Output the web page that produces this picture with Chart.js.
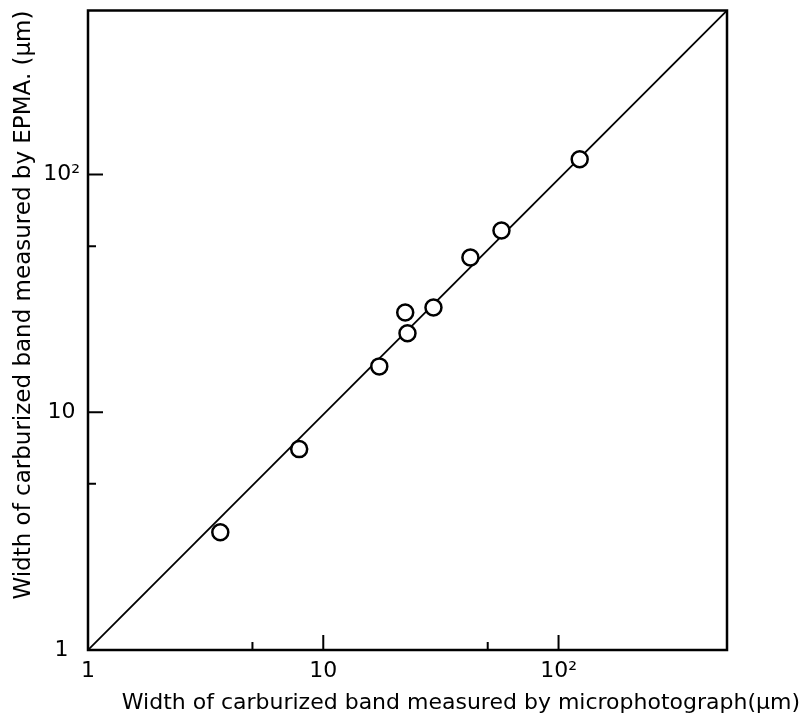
<!DOCTYPE html>
<html>
<head>
<meta charset="utf-8">
<script src="https://cdn.jsdelivr.net/npm/chart.js@4/dist/chart.umd.min.js"></script>
<style>
	body { margin: 0; background: #fff; }
	canvas { display: block; }
</style>
</head>
<body>
<canvas id="cc" width="809" height="723"></canvas>
<script>
// measured points (um)
let microWidth = [3.65, 7.9, 17.3, 22.3, 22.8, 29.4, 42.2, 57.2, 123];
let epmaWidth  = [3.13, 7.0, 15.6, 26.3, 21.5, 27.6, 44.8, 58.2, 116];

// reference line, corner to corner of the plot
let lineX = [1, 520];
let lineY = [1, 490];

let tickValues = [1, 5, 10, 50, 100];
let majorTicks = [10, 100];
let minorTicks = [5, 50];
let labelValues = [1, 10, 100];
let labelTexts = ["1", "10", "10\u00b2"];

let xMin = 1, xMax = 520;
let yMin = 1, yMax = 490;

function tickLabel(value){
	let i = labelValues.indexOf(value);
	return i >= 0 ? labelTexts[i] : "";
}

function setTicks(scale){
	scale.ticks = tickValues.map(function(v){ return {value: v}; });
}

let points = [];
for(let i=0; i<microWidth.length; i++){
	points.push({x: microWidth[i], y: epmaWidth[i]});
}
let diag = [];
for(let i=0; i<lineX.length; i++){
	diag.push({x: lineX[i], y: lineY[i]});
}

// box round the plot and short ticks pointing inwards
const frame = {
	id: "frame",
	afterDraw(chart){
		let ctx = chart.ctx;
		let a = chart.chartArea;
		let xs = chart.scales.x;
		let ys = chart.scales.y;
		ctx.save();
		ctx.strokeStyle = "#000";
		ctx.lineWidth = 2.5;
		ctx.strokeRect(a.left, a.top, a.right - a.left, a.bottom - a.top);
		ctx.lineWidth = 2;
		ctx.beginPath();
		majorTicks.concat(minorTicks).forEach(function(v){
			let len = majorTicks.indexOf(v) >= 0 ? 15 : 8;
			let px = xs.getPixelForValue(v);
			ctx.moveTo(px, a.bottom);
			ctx.lineTo(px, a.bottom - len);
			let py = ys.getPixelForValue(v);
			ctx.moveTo(a.left, py);
			ctx.lineTo(a.left + len, py);
		});
		ctx.stroke();
		ctx.restore();
	}
};

let font = "'DejaVu Sans', sans-serif";

let chartId = document.getElementById("cc");
chart = new Chart(chartId, {
	type: "scatter",
	data: {
		datasets: [
			{
				data: points,
				order: 0,
				pointRadius: 8,
				pointBorderWidth: 2.5,
				pointBorderColor: "#000",
				pointBackgroundColor: "#fff"
			},
			{
				type: "line",
				data: diag,
				order: 1,
				showLine: true,
				borderColor: "#000",
				borderWidth: 1.8,
				pointRadius: 0,
				fill: false
			}
		]
	},
	options: {
		responsive: false,
		animation: false,
		layout: {
			padding: {top: 10, right: 9, left: 0, bottom: 0}
		},
		plugins: {
			legend: { display: false },
			tooltip: { enabled: false },
			title: {
				display: true,
				position: "bottom",
				align: "end",
				text: "Width of carburized band measured by microphotograph(\u03bcm)",
				color: "#000",
				font: { family: font, size: 22, weight: "normal" },
				padding: { top: 0, bottom: 7 }
			}
		},
		scales: {
			x: {
				type: "logarithmic",
				min: xMin,
				max: xMax,
				afterBuildTicks: setTicks,
				afterFit: function(s){
					s.height = 39.6;
					s.paddingLeft = 0;
					s.paddingRight = 0;
				},
				grid: { display: false, drawTicks: false },
				border: { display: false },
				ticks: {
					autoSkip: false,
					maxRotation: 0,
					padding: 8,
					color: "#000",
					font: { family: font, size: 22 },
					callback: tickLabel
				}
			},
			y: {
				type: "logarithmic",
				min: yMin,
				max: yMax,
				afterBuildTicks: setTicks,
				afterFit: function(s){
					s.width = 88;
					s.paddingTop = 0;
					s.paddingBottom = 0;
				},
				grid: { display: false, drawTicks: false },
				border: { display: false },
				ticks: {
					autoSkip: false,
					crossAlign: "center",
					padding: 8,
					color: "#000",
					font: { family: font, size: 22 },
					callback: tickLabel
				},
				title: {
					display: true,
					align: "end",
					text: "Width of carburized band measured by EPMA. (\u03bcm)",
					color: "#000",
					font: { family: font, size: 23 },
					padding: { top: 10, bottom: 0 }
				}
			},
			y2: {
				type: "linear",
				position: "right",
				afterFit: function(s){
					s.width = 73;
					s.paddingTop = 0;
					s.paddingBottom = 0;
				},
				grid: { display: false, drawTicks: false },
				border: { display: false },
				ticks: { display: false }
			}
		}
	},
	plugins: [frame]
});
</script>
</body>
</html>
